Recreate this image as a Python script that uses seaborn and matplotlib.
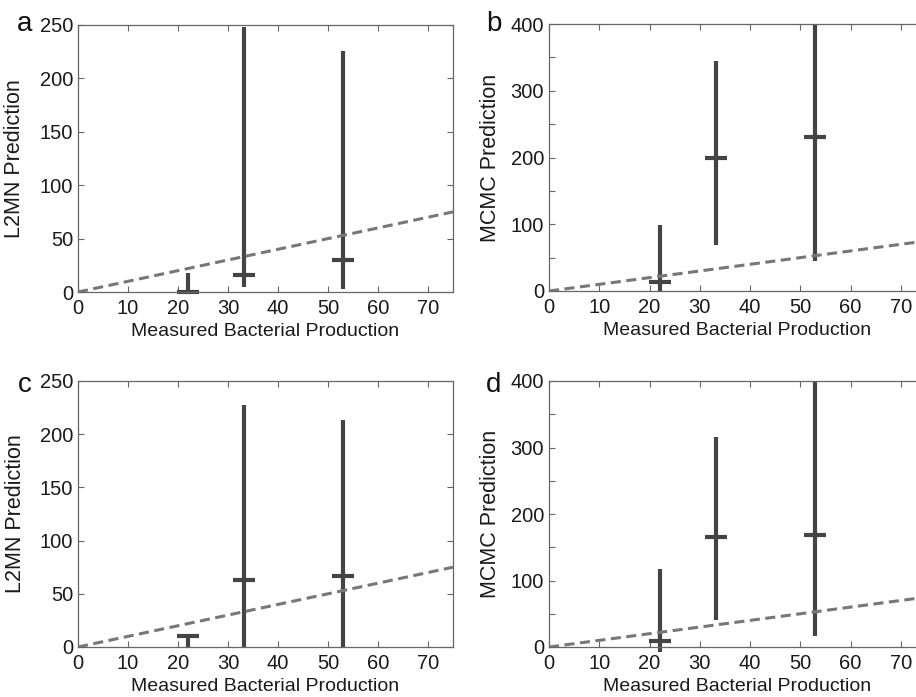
import numpy as np
import pandas as pd
import matplotlib
matplotlib.use("Agg")
import matplotlib.pyplot as plt
from matplotlib.ticker import MultipleLocator
import seaborn as sns

# measured production of the three samples
measured = [22.0, 33.2, 53.0]

# predictions: median, lower and upper bound per panel
a_med = [0, 16, 30]
a_lo = [0, 5, 3]
a_hi = [18, 248, 226]

b_med = [14, 199, 230]
b_lo = [-2, 69, 45]
b_hi = [99, 345, 400]

c_med = [10, 63, 67]
c_lo = [0, 0, 0]
c_hi = [11, 227, 213]

d_med = [8.5, 166, 168]
d_lo = [-7, 40, 16]
d_hi = [118, 316, 400]

one_to_one = [0, 75]

sns.set_theme(style="ticks")
plt.rcParams["font.family"] = ["Liberation Sans", "DejaVu Sans"]

W, H = 916, 697
fig = plt.figure(figsize=(W / 100, H / 100), dpi=100)

bar_col = "#444444"
dash_col = "#777777"
spine_col = "#666666"
txt_col = "#1a1a1a"


def box(left, top, right, bottom):
    return [left / W, (H - bottom) / H, (right - left) / W, (bottom - top) / H]


panels = [
    ("a", box(78, 25, 453, 292), a_med, a_lo, a_hi, "L2MN Prediction", 250, (32, 31), -0.141),
    ("b", box(549, 24, 926, 291), b_med, b_lo, b_hi, "MCMC Prediction", 400, (486, 31), -0.127),
    ("c", box(78, 381, 453, 647), c_med, c_lo, c_hi, "L2MN Prediction", 250, (32, 392), -0.138),
    ("d", box(549, 381, 926, 647), d_med, d_lo, d_hi, "MCMC Prediction", 400, (486, 392), -0.127),
]

for letter, pos, med, lo, hi, ylab, ymax, lpos, ylab_x in panels:
    ax = fig.add_axes(pos)
    df = pd.DataFrame({"x": measured, "med": med, "lo": lo, "hi": hi})

    line = pd.DataFrame({"x": one_to_one, "y": one_to_one})
    sns.lineplot(data=line, x="x", y="y", ax=ax, color=dash_col, lw=2.2,
                 linestyle=(0, (3.3, 1.8)), zorder=3)

    err = [df["med"] - df["lo"], df["hi"] - df["med"]]
    eb = ax.errorbar(df["x"], df["med"], yerr=err, fmt="_", ms=16, mew=3,
                     elinewidth=3, color=bar_col, capsize=0, zorder=2)
    eb.lines[0].set_clip_on(False)
    for art in eb.lines[2]:
        art.set_clip_on(False)

    ax.set_xlim(0, 75)
    ax.set_ylim(0, ymax)
    ax.xaxis.set_major_locator(MultipleLocator(10))
    if ymax == 400:
        ax.yaxis.set_major_locator(MultipleLocator(100))
        ax.yaxis.set_minor_locator(MultipleLocator(50))
    else:
        ax.yaxis.set_major_locator(MultipleLocator(50))

    ax.tick_params(which="both", direction="in", length=4, width=0.8,
                   color=spine_col, labelsize=14.5, labelcolor=txt_col,
                   top=True, right=True)
    ax.tick_params(axis="x", pad=5)
    ax.tick_params(axis="y", pad=3.5)
    for s in ax.spines.values():
        s.set_visible(True)
        s.set_color(spine_col)
        s.set_linewidth(0.9)

    ax.set_xlabel("Measured Bacterial Production", fontsize=14, color=txt_col)
    ax.set_ylabel(ylab, fontsize=15.5, color=txt_col)
    ax.xaxis.set_label_coords(0.5, -0.115)
    ax.yaxis.set_label_coords(ylab_x, 0.5)

    fig.text(lpos[0] / W, (H - lpos[1]) / H, letter, fontsize=20,
             ha="right" if letter in "ac" else "left", va="baseline",
             color="#111111")

fig.savefig("out.png", dpi=100)
